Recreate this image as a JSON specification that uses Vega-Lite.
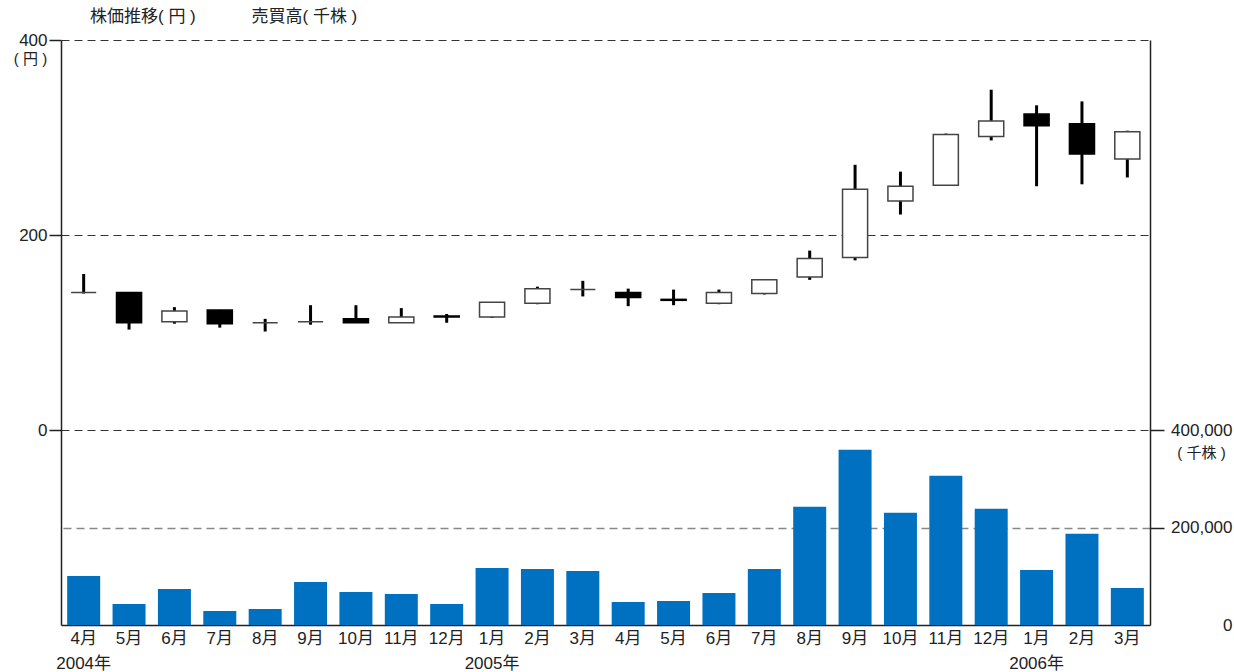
{
  "$schema": "https://vega.github.io/schema/vega-lite/v6.json",
  "width": 1089,
  "height": 585,
  "autosize": {"type": "none"},
  "padding": {"left": 61, "top": 40, "right": 84, "bottom": 47},
  "title": {
    "text": "株価推移( 円 )　　　  売買高( 千株 )",
    "anchor": "start",
    "frame": "group",
    "dx": 29,
    "dy": 24,
    "offset": 12,
    "baseline": "bottom",
    "fontSize": 17,
    "fontWeight": "normal",
    "font": "Liberation Sans, Noto Sans CJK JP",
    "color": "#222"
  },
  "data": {
    "values": [
      {"m": "2004-04", "open": 141, "high": 160, "low": 140, "close": 141, "volume": 100500},
      {"m": "2004-05", "open": 141, "high": 141, "low": 103, "close": 110, "volume": 43000},
      {"m": "2004-06", "open": 111, "high": 126, "low": 109, "close": 122, "volume": 73800},
      {"m": "2004-07", "open": 123, "high": 123, "low": 105, "close": 109, "volume": 28700},
      {"m": "2004-08", "open": 110, "high": 114, "low": 101, "close": 110, "volume": 32800},
      {"m": "2004-09", "open": 111, "high": 128, "low": 108, "close": 111, "volume": 88200},
      {"m": "2004-10", "open": 114, "high": 128, "low": 110, "close": 110, "volume": 67700},
      {"m": "2004-11", "open": 110, "high": 125, "low": 110, "close": 116, "volume": 63600},
      {"m": "2004-12", "open": 117, "high": 119, "low": 110, "close": 116, "volume": 43000},
      {"m": "2005-01", "open": 116, "high": 131, "low": 115, "close": 131, "volume": 117000},
      {"m": "2005-02", "open": 130, "high": 147, "low": 129, "close": 145, "volume": 114900},
      {"m": "2005-03", "open": 144, "high": 153, "low": 137, "close": 144, "volume": 110800},
      {"m": "2005-04", "open": 141, "high": 145, "low": 127, "close": 136, "volume": 47300},
      {"m": "2005-05", "open": 134, "high": 144, "low": 128, "close": 133, "volume": 49300},
      {"m": "2005-06", "open": 130, "high": 144, "low": 129, "close": 141, "volume": 65800},
      {"m": "2005-07", "open": 140, "high": 154, "low": 139, "close": 154, "volume": 115100},
      {"m": "2005-08", "open": 157, "high": 184, "low": 154, "close": 176, "volume": 242500},
      {"m": "2005-09", "open": 177, "high": 272, "low": 174, "close": 247, "volume": 359700},
      {"m": "2005-10", "open": 235, "high": 265, "low": 221, "close": 250, "volume": 230200},
      {"m": "2005-11", "open": 251, "high": 304, "low": 251, "close": 303, "volume": 306300},
      {"m": "2005-12", "open": 301, "high": 349, "low": 297, "close": 317, "volume": 238400},
      {"m": "2006-01", "open": 324, "high": 333, "low": 250, "close": 312, "volume": 113000},
      {"m": "2006-02", "open": 314, "high": 337, "low": 252, "close": 283, "volume": 187000},
      {"m": "2006-03", "open": 278, "high": 307, "low": 259, "close": 306, "volume": 76000}
    ]
  },
  "encoding": {
    "x": {
      "field": "m",
      "type": "ordinal",
      "scale": {"paddingInner": 0.273, "paddingOuter": 0.136},
      "axis": {
        "title": null,
        "ticks": false,
        "labelAngle": 0,
        "labelPadding": 5,
        "labelLineHeight": 25,
        "labelExpr": "[toNumber(slice(datum.value,5)) + '月', (slice(datum.value,5) == '01' || datum.value == '2004-04') ? slice(datum.value,0,4) + '年' : '']"
      }
    }
  },
  "layer": [
    {
      "mark": {"type": "bar", "color": "#0070C0"},
      "encoding": {
        "y": {
          "field": "volume",
          "type": "quantitative",
          "scale": {"domain": [0, 1200000], "nice": false},
          "axis": {
            "orient": "right",
            "values": [0, 200000, 400000],
            "labelExpr": "format(datum.value, ',')",
            "grid": true,
            "gridDash": [8, 5],
            "gridColor": "#888",
            "gridWidth": 1.5,
            "gridOpacity": {"condition": {"test": "datum.value == 200000", "value": 1}, "value": 0},
            "tickOpacity": {"condition": {"test": "datum.value == 0", "value": 0}, "value": 1},
            "tickSize": 14,
            "labelAlign": "right",
            "labelPadding": 68,
            "title": "( 千株 )",
            "titleAngle": 0,
            "titleX": 51,
            "titleY": 412,
            "titleAlign": "center",
            "titleBaseline": "middle",
            "titleFontSize": 15,
            "titleFontWeight": "normal"
          }
        }
      }
    },
    {
      "layer": [
        {
          "mark": {"type": "rule", "color": "#000", "strokeWidth": 3},
          "encoding": {
            "y": {
              "field": "low",
              "type": "quantitative",
              "scale": {"domain": [-200, 400], "nice": false},
              "axis": {
                "values": [0, 200, 400],
                "grid": true,
                "gridDash": [8, 5],
                "gridColor": "#333",
                "gridWidth": 1,
                "tickSize": 12,
                "labelPadding": 2,
                "title": "( 円 )",
                "titleAngle": 0,
                "titleX": -31,
                "titleY": 18,
                "titleAlign": "center",
                "titleBaseline": "middle",
                "titleFontSize": 15,
                "titleFontWeight": "normal"
              }
            },
            "y2": {"field": "high"}
          }
        },
        {
          "mark": {"type": "bar", "width": {"band": 0.76}, "strokeWidth": 1.5},
          "encoding": {
            "y": {
              "field": "open",
              "type": "quantitative",
              "scale": {"domain": [-200, 400], "nice": false},
              "axis": {
                "values": [0, 200, 400],
                "grid": true,
                "gridDash": [8, 5],
                "gridColor": "#333",
                "gridWidth": 1,
                "tickSize": 12,
                "labelPadding": 2,
                "title": "( 円 )",
                "titleAngle": 0,
                "titleX": -31,
                "titleY": 18,
                "titleAlign": "center",
                "titleBaseline": "middle",
                "titleFontSize": 15,
                "titleFontWeight": "normal"
              }
            },
            "y2": {"field": "close"},
            "fill": {"condition": {"test": "datum.close < datum.open", "value": "#000"}, "value": "#fff"},
            "stroke": {"condition": {"test": "datum.close < datum.open", "value": "#000"}, "value": "#444"}
          }
        }
      ]
    }
  ],
  "resolve": {"scale": {"y": "independent"}},
  "config": {
    "view": {"stroke": null},
    "font": "Liberation Sans, Noto Sans CJK JP",
    "axis": {
      "labelFont": "Liberation Sans, Noto Sans CJK JP",
      "titleFont": "Liberation Sans, Noto Sans CJK JP",
      "labelFontSize": 17,
      "labelColor": "#222",
      "titleColor": "#222",
      "domainColor": "#222",
      "domainWidth": 1.5,
      "tickColor": "#222",
      "tickWidth": 1.5
    }
  }
}
